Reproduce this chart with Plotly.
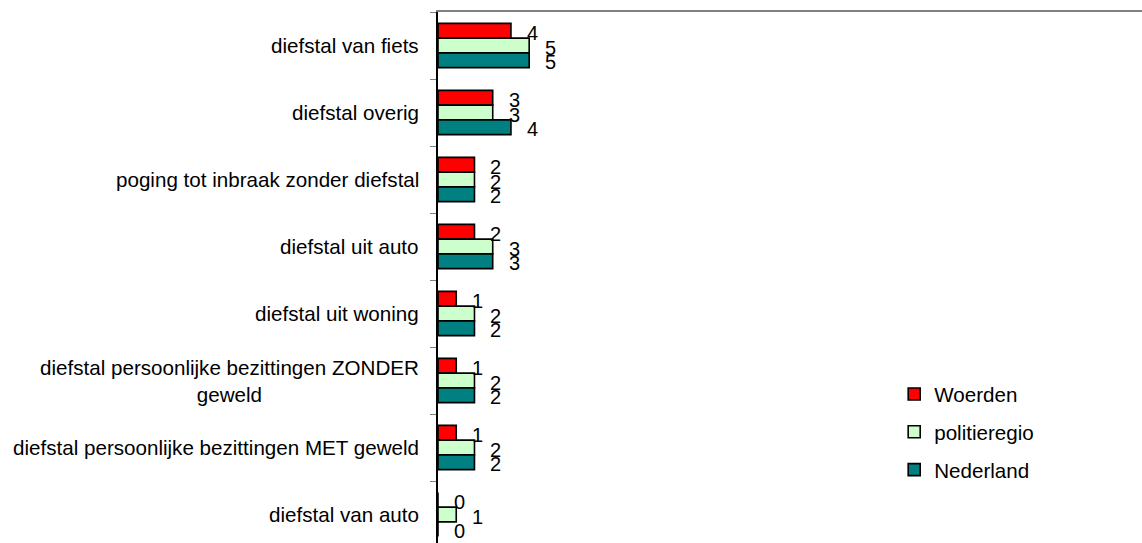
import plotly.graph_objects as go

# Categories (top to bottom) and values per series
categories = [
    "diefstal van fiets",
    "diefstal overig",
    "poging tot inbraak zonder diefstal",
    "diefstal uit auto",
    "diefstal uit woning",
    "diefstal persoonlijke bezittingen ZONDER<br>geweld",
    "diefstal persoonlijke bezittingen MET geweld",
    "diefstal van auto",
]
woerden = [4, 3, 2, 2, 1, 1, 1, 0]
politieregio = [5, 3, 2, 3, 2, 2, 2, 1]
nederland = [5, 4, 2, 3, 2, 2, 2, 0]

series_names = ["Woerden", "politieregio", "Nederland"]
series_values = [woerden, politieregio, nederland]
series_colors = ["#FF0000", "#CCFFCC", "#008080"]

FONT = "Liberation Sans, Arial, sans-serif"
FS = 20.6
FS_VAL = 20
BARGAP = 0.34
n_series = len(series_names)
bar_w = (1 - BARGAP) / n_series

fig = go.Figure()
annotations = []
for k, (name, vals, col) in enumerate(zip(series_names, series_values, series_colors)):
    fig.add_trace(go.Bar(
        y=categories, x=vals, orientation="h", name=name,
        marker=dict(color=col, line=dict(color="#000000", width=1.6)),
        legendgroup=name,
    ))
    offset = -(1 - BARGAP) / 2 + bar_w * (k + 0.5)
    for i, v in enumerate(vals):
        annotations.append(dict(
            x=v, y=i + offset, xref="x", yref="y", text=str(v),
            showarrow=False, xanchor="left", yanchor="middle",
            xshift=14, yshift=-2,
            font=dict(family=FONT, size=FS_VAL, color="#000000"),
        ))

# category labels, centred multi-line text right-aligned against the axis
for i, c in enumerate(categories):
    annotations.append(dict(
        x=0, y=i, xref="paper", yref="y", text=c, showarrow=False,
        xanchor="right", yanchor="middle", align="center", xshift=-17,
        font=dict(family=FONT, size=FS, color="#000000"),
    ))

y_bottom = len(categories) - 0.5 - 5 / 67

fig.update_layout(
    width=1142, height=543,
    margin=dict(l=438, r=0, t=12, b=0, pad=0),
    paper_bgcolor="#FFFFFF", plot_bgcolor="#FFFFFF",
    barmode="group", bargap=BARGAP, bargroupgap=0,
    font=dict(family=FONT, size=FS, color="#000000"),
    showlegend=True,
    legend=dict(
        x=0.648, y=0.318, xanchor="left", yanchor="top",
        bgcolor="rgba(0,0,0,0)", traceorder="grouped", tracegroupgap=8,
        font=dict(family=FONT, size=FS, color="#000000"),
    ),
    annotations=annotations,
    xaxis=dict(
        range=[0, 38.6], side="top", showline=True, linecolor="#808080",
        linewidth=2, showgrid=False, zeroline=False, showticklabels=False,
        ticks="", fixedrange=True,
    ),
    yaxis=dict(
        type="category", range=[y_bottom, -0.5], showline=True,
        linecolor="#000000", linewidth=1.6, showgrid=False, zeroline=False,
        showticklabels=False, ticks="outside", ticklen=6, tickcolor="#808080",
        tickwidth=1, tickson="boundaries",
    ),
)

fig.write_html("out.html")
